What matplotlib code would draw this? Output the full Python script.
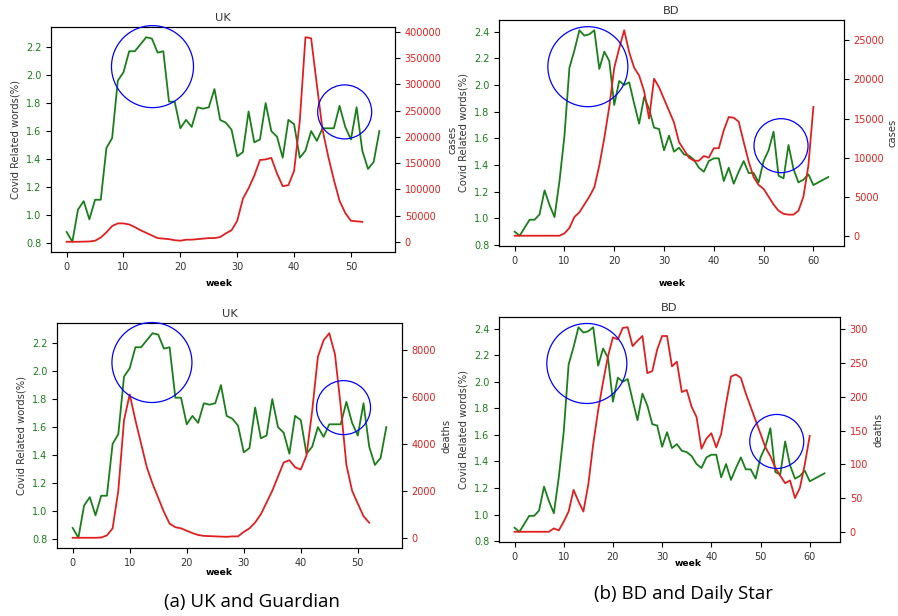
import matplotlib
matplotlib.use("Agg")
import matplotlib.pyplot as plt
from matplotlib.patches import Ellipse

# ---------------- data ----------------
uk_words = [0.88, 0.81, 1.04, 1.10, 0.97, 1.11, 1.11, 1.48, 1.55, 1.96,
            2.02, 2.17, 2.17, 2.22, 2.27, 2.26, 2.16, 2.17, 1.81, 1.81,
            1.62, 1.68, 1.63, 1.77, 1.76, 1.77, 1.90, 1.68, 1.66, 1.61,
            1.42, 1.45, 1.74, 1.52, 1.54, 1.80, 1.60, 1.56, 1.41, 1.68,
            1.65, 1.41, 1.46, 1.60, 1.53, 1.62, 1.62, 1.62, 1.78, 1.63,
            1.54, 1.77, 1.46, 1.33, 1.38, 1.60]
uk_cases = [0, 0, 0, 300, 600, 2000, 8000, 18000, 30000, 35000,
            35000, 33000, 28000, 22000, 17000, 12000, 7000, 6000, 5000, 3000,
            2000, 4000, 4000, 5000, 6000, 7000, 7000, 9000, 16000, 22000,
            40000, 82000, 102000, 126000, 156000, 157000, 160000, 130000, 106000, 108000,
            135000, 230000, 390000, 388000, 300000, 214000, 163000, 118000, 78000, 55000,
            40000, 39000, 38000]
uk_deaths = [0, 0, 0, 0, 0, 10, 100, 400, 2000, 5000,
             6100, 5000, 4000, 3000, 2300, 1700, 1100, 600, 450, 400,
             300, 200, 120, 80, 70, 60, 50, 40, 60, 60,
             250, 400, 650, 1000, 1500, 2000, 2600, 3200, 3300, 3000,
             2900, 3500, 5400, 7700, 8400, 8700, 7800, 5600, 3100, 2000,
             1450, 920, 640]
bd_words = [0.90, 0.87, 0.93, 0.99, 0.99, 1.03, 1.21, 1.10, 1.01, 1.28,
            1.62, 2.13, 2.26, 2.41, 2.37, 2.38, 2.41, 2.12, 2.25, 2.18,
            1.85, 2.03, 2.00, 2.02, 1.86, 1.71, 1.91, 1.82, 1.68, 1.67,
            1.51, 1.62, 1.50, 1.53, 1.48, 1.47, 1.44, 1.38, 1.35, 1.43,
            1.45, 1.45, 1.28, 1.38, 1.26, 1.35, 1.43, 1.34, 1.34, 1.27,
            1.43, 1.51, 1.65, 1.32, 1.30, 1.55, 1.37, 1.27, 1.29, 1.33,
            1.25, 1.27, 1.29, 1.31]
bd_cases = [0, 0, 0, 0, 0, 0, 0, 0, 0, 0,
            300, 1000, 2400, 3000, 4000, 5000, 6200, 9000, 12500, 16500,
            21500, 24000, 26300, 23500, 21500, 20500, 18500, 15000, 20100, 19000,
            17500, 16000, 14500, 12000, 11000, 10000, 9600, 9600, 10200, 10000,
            11200, 11200, 13500, 15200, 15100, 14600, 12000, 9500, 7500, 6500,
            6000, 5000, 4000, 3200, 2800, 2700, 2700, 3200, 5000, 9000,
            16500]
bd_deaths = [0, 0, 0, 0, 0, 0, 0, 0, 5, 2,
             15, 30, 62, 45, 30, 70, 130, 180, 222, 260,
             288, 285, 302, 303, 275, 283, 290, 235, 238, 270,
             290, 290, 245, 252, 207, 210, 185, 170, 123, 138,
             146, 125, 145, 190, 230, 233, 228, 205, 185, 165,
             145, 125, 112, 95, 83, 72, 76, 50, 65, 100,
             142]

titles = ["UK", "BD", "UK", "BD"]
right_labels = ["cases", "cases", "deaths", "deaths"]
captions = ["(a) UK and Guardian", "(b) BD and Daily Star"]

# ---------------- figure ----------------
W, H = 898, 616
fig = plt.figure(figsize=(W / 100, H / 100), dpi=100)

FS = 7.0
GREEN = "#1a7f1a"
RED = "#e02020"
LABC = "#333333"


def make_panel(box, words, other, title, rlabel, circles, week_xy, rpad=4.0):
    l, r, t, b = box
    ax = fig.add_axes([l / W, 1 - b / H, (r - l) / W, (b - t) / H])
    ax.plot(range(len(words)), words, color=GREEN, lw=1.3)
    ax.set_ylabel("Covid Related words(%)", fontsize=7.2, color=LABC)
    ax.set_xlabel("week", fontsize=6.6, fontweight="bold")
    ax.xaxis.set_label_coords(*week_xy)
    ax.set_title(title, fontsize=8.2, pad=4, color=LABC)
    ax.tick_params(axis="y", labelcolor=GREEN, labelsize=FS)
    ax.tick_params(axis="x", labelsize=FS, labelcolor=LABC)
    ax2 = ax.twinx()
    ax2.plot(range(len(other)), other, color=RED, lw=1.3)
    ax2.set_ylabel(rlabel, fontsize=7.2, color=LABC, labelpad=rpad)
    ax2.tick_params(axis="y", labelcolor=RED, labelsize=FS)
    ax.get_ylim(); ax.get_xlim()
    aw, ah = r - l, b - t
    for (cx, cy, rad) in circles:
        fx, fy = ax.transAxes.inverted().transform(ax.transData.transform((cx, cy)))
        e = Ellipse((fx, fy), 2 * rad / aw, 2 * rad / ah, transform=ax.transAxes,
                    fill=False, edgecolor="blue", lw=0.9, clip_on=False, zorder=5)
        ax2.add_patch(e)
    return ax, ax2


make_panel((51, 395, 27, 252), uk_words, uk_cases, titles[0], right_labels[0],
           [(15.1, 2.06, 41), (48.9, 1.737, 27)], (0.488, -0.121))
make_panel((499, 844, 20, 246), bd_words, bd_cases, titles[1], right_labels[1],
           [(14.7, 2.137, 40), (53.5, 1.545, 27)], (0.501, -0.146), rpad=2.0)
make_panel((57, 402, 323, 548), uk_words, uk_deaths, titles[2], right_labels[2],
           [(13.9, 2.061, 40), (47.5, 1.739, 27)], (0.470, -0.088))
make_panel((499, 840, 317, 542), bd_words, bd_deaths, titles[3], right_labels[3],
           [(14.7, 2.137, 40), (53.3, 1.55, 27)], (0.554, -0.076))

fig.text(252 / W, 1 - 602 / H, captions[0], ha="center", va="center",
         fontsize=13.5, family="Open Sans")
fig.text(683 / W, 1 - 594 / H, captions[1], ha="center", va="center",
         fontsize=13.5, family="Open Sans")

fig.savefig("out.png", dpi=100)
